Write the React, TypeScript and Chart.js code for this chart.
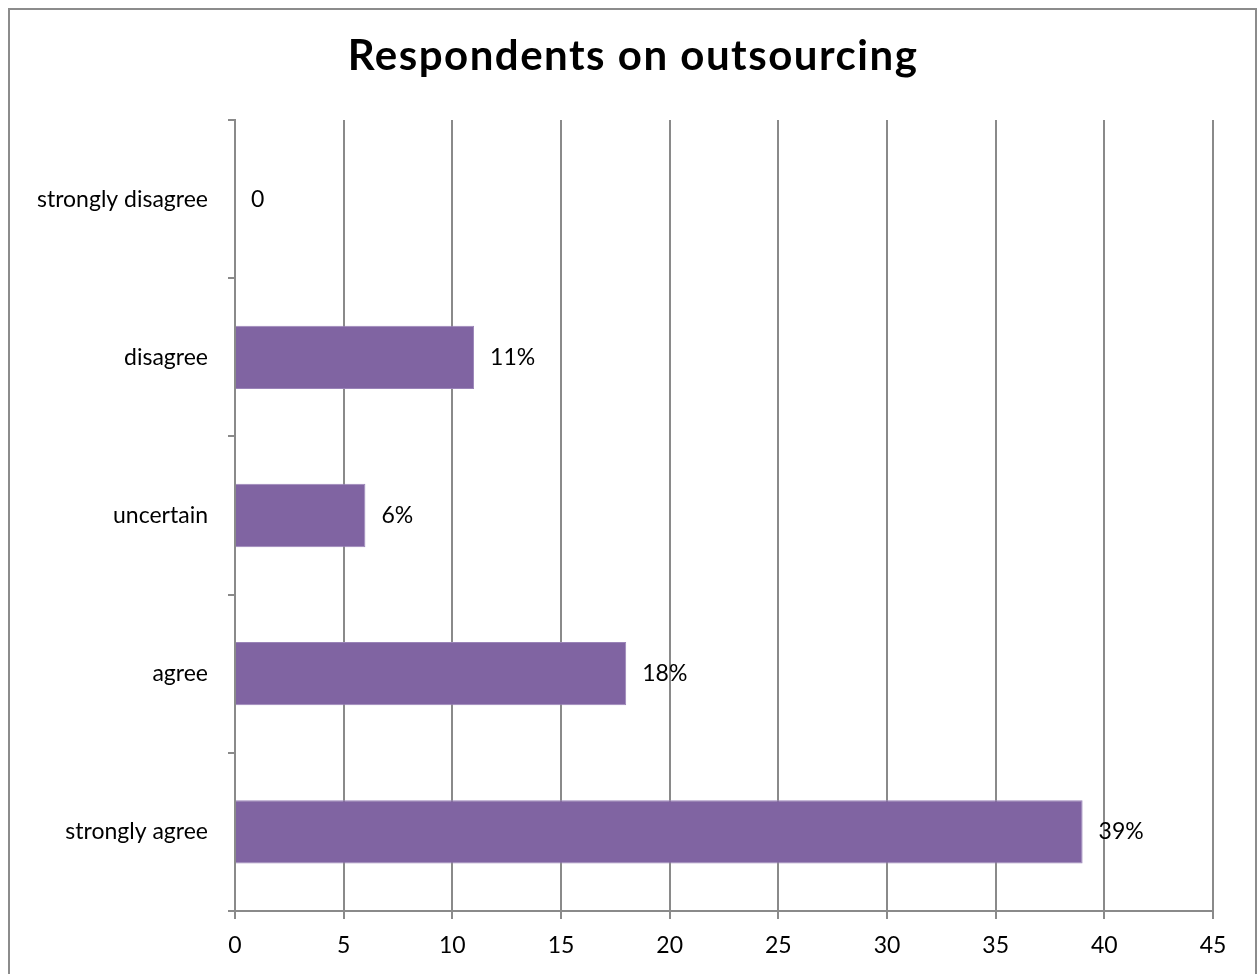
import React, { useEffect, useRef } from "react";
import { Chart, registerables } from "chart.js";

Chart.register(...registerables);

const categories = ["strongly disagree", "disagree", "uncertain", "agree", "strongly agree"];
const values = [0, 11, 6, 18, 39];
const valueLabels = ["0", "11%", "6%", "18%", "39%"];
const xMin = 0;
const xMax = 45;
const xStep = 5;
const titleText = "Respondents on outsourcing";

const FONT = "Lato, 'Open Sans', sans-serif";

const dataLabelPlugin = {
  id: "dataLabels",
  afterDatasetsDraw(chart: any) {
    const ctx = chart.ctx;
    const meta = chart.getDatasetMeta(0);
    ctx.save();
    ctx.font = `23px ${FONT}`;
    ctx.fillStyle = "#000000";
    ctx.textAlign = "left";
    ctx.textBaseline = "middle";
    meta.data.forEach((bar: any, i: number) => {
      ctx.fillText(valueLabels[i], bar.x + 16, bar.y);
    });
    ctx.restore();
  },
};

const titlePlugin = {
  id: "customTitle",
  afterDraw(chart: any) {
    const ctx = chart.ctx;
    ctx.save();
    ctx.font = `bold 42px ${FONT}`;
    try {
      (ctx as any).letterSpacing = "1.5px";
    } catch (e) {}
    ctx.fillStyle = "#000000";
    ctx.textAlign = "center";
    ctx.textBaseline = "alphabetic";
    ctx.fillText(titleText, 633, 70);
    ctx.restore();
  },
};

export default function App() {
  const canvasRef = useRef<HTMLCanvasElement | null>(null);

  useEffect(() => {
    if (!canvasRef.current) return;
    const chart = new Chart(canvasRef.current, {
      type: "bar",
      data: {
        labels: categories,
        datasets: [
          {
            data: values,
            backgroundColor: "#8064A2",
            borderColor: "#9A84B8",
            borderWidth: 1,
            barPercentage: 0.4,
            categoryPercentage: 1.0,
          },
        ],
      },
      options: {
        indexAxis: "y",
        animation: false,
        responsive: false,
        maintainAspectRatio: false,
        layout: { padding: { left: 0, right: 45, top: 120, bottom: 0 } },
        plugins: {
          legend: { display: false },
          tooltip: { enabled: false },
          title: { display: false },
        },
        scales: {
          x: {
            min: xMin,
            max: xMax,
            ticks: {
              stepSize: xStep,
              color: "#000000",
              font: { family: FONT, size: 23 },
              padding: 13,
            },
            grid: {
              color: "#8A8A8A",
              lineWidth: 2,
              tickLength: 8,
              drawTicks: true,
            },
            border: { display: true, color: "#8A8A8A", width: 2 },
            afterFit(scale: any) {
              scale.height = 63;
            },
          },
          y: {
            ticks: {
              color: "#000000",
              font: { family: FONT, size: 23 },
              padding: 20,
            },
            grid: {
              display: true,
              drawOnChartArea: false,
              drawTicks: true,
              tickLength: 7,
              color: "#8A8A8A",
              lineWidth: 2,
              offset: true,
            },
            border: { display: true, color: "#8A8A8A", width: 2 },
            afterFit(scale: any) {
              scale.width = 235;
            },
          },
        },
      },
      plugins: [dataLabelPlugin, titlePlugin],
    });
    return () => chart.destroy();
  }, []);

  return (
    <div>
      <div
        style={{
          position: "fixed",
          left: 8,
          top: 8,
          width: 1249,
          height: 1000,
          border: "2px solid #8C8C8C",
          boxSizing: "border-box",
          background: "#ffffff",
        }}
      />
      <canvas
        ref={canvasRef}
        width={1258}
        height={974}
        style={{ position: "fixed", left: 0, top: 0, width: 1258, height: 974 }}
      />
    </div>
  );
}
